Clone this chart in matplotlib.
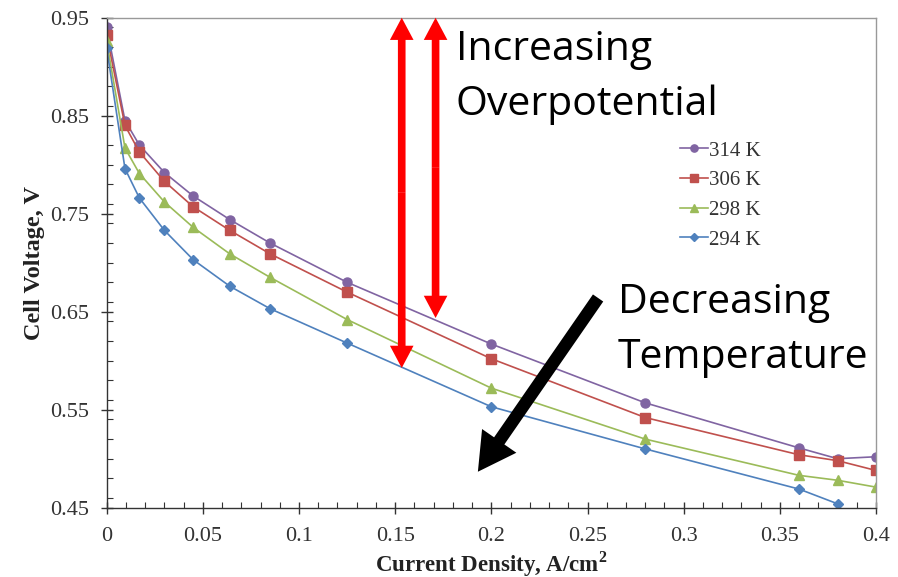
import matplotlib
matplotlib.use("Agg")
import matplotlib.pyplot as plt
from matplotlib.ticker import MultipleLocator, FixedLocator

current = [0, 0.0095, 0.017, 0.03, 0.045, 0.064, 0.085, 0.125, 0.2, 0.28, 0.36, 0.38, 0.4]
v_314 = [0.940, 0.845, 0.820, 0.792, 0.768, 0.744, 0.720, 0.680, 0.617, 0.557, 0.511, 0.500, 0.502]
v_306 = [0.932, 0.840, 0.813, 0.783, 0.757, 0.733, 0.709, 0.670, 0.602, 0.542, 0.504, 0.498, 0.488]
v_298 = [0.926, 0.817, 0.791, 0.762, 0.736, 0.709, 0.685, 0.642, 0.572, 0.520, 0.483, 0.478, 0.471]
v_294 = [0.919, 0.796, 0.766, 0.733, 0.703, 0.676, 0.653, 0.618, 0.553, 0.510, 0.469, 0.454]
labels = ["314 K", "306 K", "298 K", "294 K"]
x_ticks = [0, 0.05, 0.1, 0.15, 0.2, 0.25, 0.3, 0.35, 0.4]
x_tick_labels = ["0", "0.05", "0.1", "0.15", "0.2", "0.25", "0.3", "0.35", "0.4"]
y_ticks = [0.45, 0.55, 0.65, 0.75, 0.85, 0.95]

colors = ["#8064A2", "#C0504D", "#9BBB59", "#4F81BD"]
markers = ["o", "s", "^", "D"]
msizes = [6.5, 6.5, 6.5, 5.5]

W, H = 898, 577
fig = plt.figure(figsize=(W/100, H/100), dpi=100)
ax = fig.add_axes([106.7/W, (H-507.7)/H, (876-106.7)/W, 490/H])

series = [v_314, v_306, v_298, v_294]
for vals, c, m, ms, lab in zip(series, colors, markers, msizes, labels):
    ax.plot(current[:len(vals)], vals, color=c, marker=m, markersize=ms, lw=1.2, label=lab)

ax.set_xlim(0, 0.4)
ax.set_ylim(0.45, 0.95)
ax.xaxis.set_major_locator(FixedLocator(x_ticks))
ax.set_xticklabels(x_tick_labels)
ax.yaxis.set_major_locator(FixedLocator(y_ticks))
ax.set_yticklabels([f"{v:.2f}" for v in y_ticks])
ax.xaxis.set_minor_locator(MultipleLocator(0.01))
ax.yaxis.set_minor_locator(MultipleLocator(0.02))

serif = "Liberation Serif"
ax.tick_params(which="major", direction="inout", length=8, width=1, color="#333333",
               labelsize=16, labelcolor="#333333")
ax.tick_params(axis="y", which="major", pad=8.4)
ax.tick_params(axis="x", which="major", pad=10)
ax.tick_params(which="minor", direction="in", length=4, width=0.8, color="#333333")
ax.tick_params(top=False, right=False, which="both")
for lab in ax.get_xticklabels() + ax.get_yticklabels():
    lab.set_fontfamily(serif)

for s in ["left", "bottom"]:
    ax.spines[s].set_color("#333333")
    ax.spines[s].set_linewidth(1.0)
for s in ["top", "right"]:
    ax.spines[s].set_color("#999999")
    ax.spines[s].set_linewidth(1.0)

ax.set_xlabel("Current Density, A/cm$^\\mathregular{2}$", fontfamily=serif, fontweight="bold",
              fontsize=16.5, color="#222222", labelpad=2)
ax.set_ylabel("Cell Voltage, V", fontfamily=serif, fontweight="bold", fontsize=17.5,
              color="#222222", labelpad=4)

leg = ax.legend(loc="upper left", bbox_to_anchor=(0.745, 0.748), frameon=False,
                prop={"family": serif, "size": 15}, handlelength=1.35, handletextpad=0.05,
                labelspacing=0.48, borderpad=0, borderaxespad=0, markerscale=0.8)
for t in leg.get_texts():
    t.set_color("#333333")

# annotations
def dbl_arrow(x, y0, y1):
    ym = (y0 + y1) / 2
    for yt in (y0, y1):
        ax.annotate("", xy=(x, yt), xytext=(x, ym),
                    arrowprops=dict(arrowstyle="simple,head_length=16,head_width=17,tail_width=5.5",
                                    mutation_scale=1, color="#FF0000", lw=0,
                                    shrinkA=0, shrinkB=0), annotation_clip=False)

dbl_arrow(0.1534, 0.95, 0.5926)
dbl_arrow(0.171, 0.95, 0.6436)

ax.annotate("", xy=(0.193, 0.4867), xytext=(0.2555, 0.664),
            arrowprops=dict(arrowstyle="simple,head_length=27,head_width=30,tail_width=9",
                            mutation_scale=1, color="black", lw=0, shrinkA=0, shrinkB=0))

ann_font = dict(fontfamily="Open Sans", fontsize=29.5, va="baseline", ha="left")
fig.text(456/W, 1 - 60/H, "Increasing", **ann_font)
fig.text(456/W, 1 - 115/H, "Overpotential", **ann_font)
fig.text(618/W, 1 - 313/H, "Decreasing", **ann_font)
fig.text(618/W, 1 - 368/H, "Temperature", **ann_font)

fig.savefig("out.png", dpi=100)
